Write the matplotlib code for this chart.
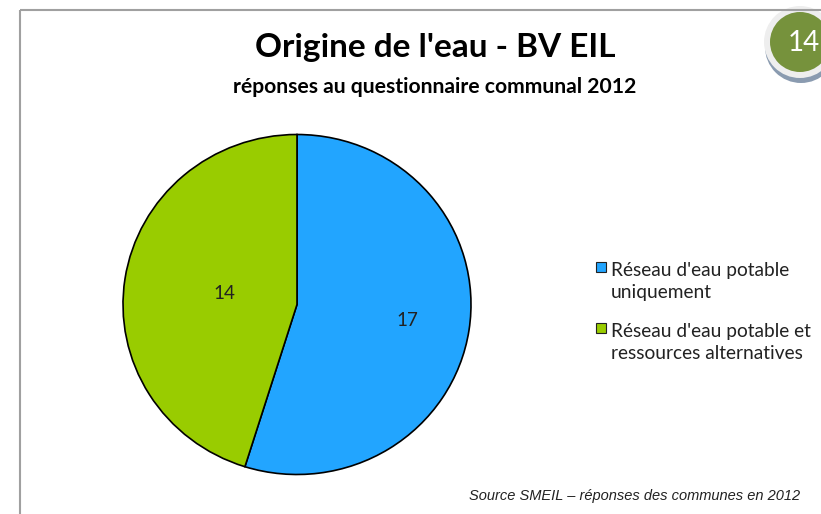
import numpy as np
import matplotlib.pyplot as plt
from matplotlib.patches import Circle, Rectangle

# data
categories = ["Réseau d'eau potable\nuniquement", "Réseau d'eau potable et\nressources alternatives"]
counts = [17, 14]
colors = ["#22A5FF", "#99CC00"]

title = "Origine de l'eau - BV EIL"
subtitle = "réponses au questionnaire communal 2012"
source = "Source SMEIL – réponses des communes en 2012"
page_no = "14"

W, H = 821, 514
fig = plt.figure(figsize=(W / 100, H / 100), dpi=100)

# background axes in pixel coords
bg = fig.add_axes([0, 0, 1, 1])
bg.set_xlim(0, W)
bg.set_ylim(H, 0)
bg.axis("off")

# chart frame
bg.plot([20, 20], [H, 10], color="#A0A0A0", lw=1.5, solid_capstyle="butt")
bg.plot([20, W], [10, 10], color="#A0A0A0", lw=1.5, solid_capstyle="butt")

# page badge
bg.add_patch(Circle((801, 47), 36, facecolor="#8A9BB0", edgecolor="none", clip_on=False))
bg.add_patch(Circle((800, 42), 36, facecolor="#EEEEEE", edgecolor="none", clip_on=False))
bg.add_patch(Circle((800, 42), 30, facecolor="#76923C", edgecolor="none", clip_on=False))
bg.text(804, 43, page_no, color="white", fontsize=20, family="Lato", ha="center", va="center")

bg.text(435, 47, title, fontsize=24, fontweight="bold", family="Lato", ha="center", va="center")
bg.text(435, 87, subtitle, fontsize=15.2, fontweight="bold", family="Lato", ha="center", va="center")
bg.text(800, 496, source, fontsize=10.5, style="italic", family="Liberation Sans",
        ha="right", va="center", color="#222222")

# pie (slightly wider than tall, as in the original)
cx, cy, rx, ry = 297, 304.5, 174, 170
pax = fig.add_axes([(cx - rx) / W, (H - cy - ry) / H, 2 * rx / W, 2 * ry / H])
wedges, _ = pax.pie(counts, colors=colors, startangle=90, counterclock=False,
                    wedgeprops=dict(edgecolor="black", linewidth=1.2))
pax.set_aspect("auto")
pax.set_xlim(-1, 1)
pax.set_ylim(-1, 1)

label_r = [0.64, 0.42]
for w, n, lr in zip(wedges, counts, label_r):
    ang = np.deg2rad((w.theta1 + w.theta2) / 2)
    pax.text(lr * np.cos(ang), lr * np.sin(ang), str(n), fontsize=13.5, family="Lato",
             ha="center", va="center", color="#222222")

# legend
for i, (lab, c) in enumerate(zip(categories, colors)):
    y0 = 267 + i * 61
    bg.add_patch(Rectangle((596, y0 - 5), 10, 10, facecolor=c, edgecolor="#222222", lw=0.8))
    bg.text(611, y0 - 5, lab, fontsize=13.8, family="Lato", ha="left", va="top",
            linespacing=1.38, color="#222222")

fig.savefig("out.png", dpi=100)
